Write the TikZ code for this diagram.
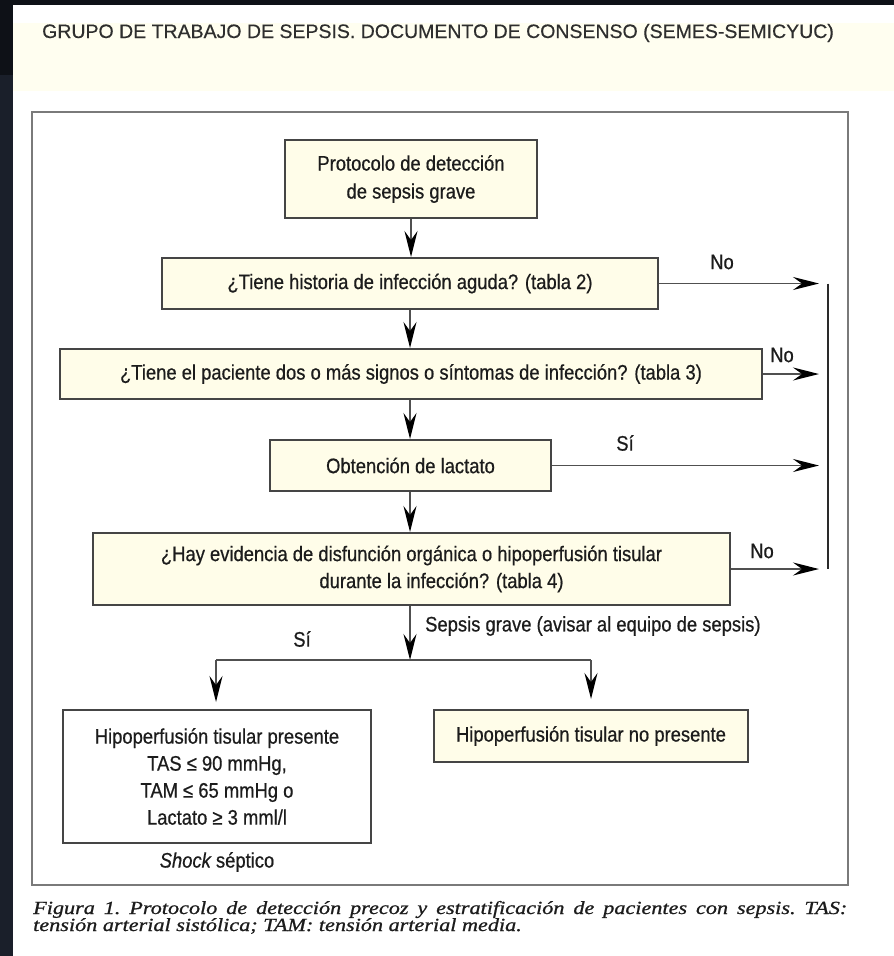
\documentclass[tikz,border=0pt]{standalone}
\usepackage{fontspec}
\setmainfont{Liberation Sans}
\newfontfamily\hdrfont[FakeBold=0.4]{Liberation Sans}
\newfontfamily\boxfont[FakeStretch=0.876,FakeBold=0.6]{Liberation Sans}
\newfontfamily\capfont[FakeStretch=1.2,FakeBold=0.9]{Liberation Serif}
\usetikzlibrary{arrows.meta}
\definecolor{darkbg}{HTML}{1A1F2A}
\definecolor{darkbgtop}{HTML}{0E1117}
\definecolor{cream}{HTML}{FFFEF0}
\definecolor{boxfill}{HTML}{FFFDE9}
\definecolor{boxline}{HTML}{454545}
\definecolor{frameline}{HTML}{7A7A7A}
\definecolor{txt}{HTML}{1C1C1C}
\definecolor{hdrtxt}{HTML}{2E2E2E}
\definecolor{connc}{HTML}{505050}
\definecolor{barc}{HTML}{2A2A2A}
\tikzset{
  flowbox/.style={draw=boxline, line width=2pt, fill=boxfill, inner sep=0pt, align=center,
    text=txt, font=\boxfont\fontsize{21}{28}\selectfont},
  lbl/.style={inner sep=0pt, text=txt, font=\boxfont\fontsize{21}{27}\selectfont},
  connline/.style={draw=connc, line width=1.6pt},
  arr/.style={connline, -{Stealth[length=26pt,width=13pt,inset=9pt,color=black]}},
  captxt/.style={anchor=base west, inner sep=0pt, text=txt, font=\frenchspacing\capfont\itshape\fontsize{18.5}{18}\selectfont},
}
\begin{document}
\begin{tikzpicture}[x=1pt,y=-1pt]
\useasboundingbox (0,0) rectangle (894,956);
% background
\fill[darkbg] (0,0) rectangle (894,956);
\fill[darkbgtop] (0,0) rectangle (13,75);
\fill[darkbgtop] (0,0) rectangle (894,5);
\fill[white] (13,5) rectangle (894,956);
\fill[cream] (13,23) rectangle (894,91);
% header
\node[anchor=base west, inner sep=0pt, text=hdrtxt, font=\hdrfont\fontsize{19.5}{24}\selectfont] (hdr) at (42,38)
  {GRUPO DE TRABAJO DE SEPSIS. DOCUMENTO DE CONSENSO (SEMES-SEMICYUC)};
% frame
\draw[frameline, line width=2.5pt] (32,112) rectangle (848,885);
% boxes
\node[flowbox, minimum width=252pt, minimum height=78pt] (b1) at (411,179) {Protocolo de detección\\de sepsis grave};
\node[flowbox, minimum width=496pt, minimum height=51pt] (b2) at (410,283.5) {¿Tiene historia de infección aguda? (tabla 2)};
\node[flowbox, minimum width=702pt, minimum height=50pt] (b3) at (411,374) {¿Tiene el paciente dos o más signos o síntomas de infección? (tabla 3)};
\node[flowbox, minimum width=281pt, minimum height=51pt] (b4) at (410.5,465.5) {Obtención de lactato};
\node[flowbox, minimum width=637pt, minimum height=72pt, font=\boxfont\fontsize{21}{27}\selectfont] (b5) at (411.5,569)
  {¿Hay evidencia de disfunción orgánica o hipoperfusión tisular\\\hspace*{60pt}durante la infección? (tabla 4)};
\node[flowbox, fill=white, minimum width=308pt, minimum height=133pt, font=\boxfont\fontsize{21}{27}\selectfont] (b6) at (217,776.5)
  {Hipoperfusión tisular presente\\TAS ≤ 90 mmHg,\\TAM ≤ 65 mmHg o\\Lactato ≥ 3 mml/l};
\node[flowbox, minimum width=314pt, minimum height=52pt] (b7) at (591,736) {Hipoperfusión tisular no presente};
% trunk arrows
\draw[arr] (b1.south) -- (b1.south |- b2.north);
\draw[arr] (b2.south) -- (b2.south |- b3.north);
\draw[arr] (b2.south |- b3.south) -- (b2.south |- b4.north);
\draw[arr] (b2.south |- b4.south) -- (b2.south |- b5.north);
% right side
\coordinate (r1) at (819,283.5);
\coordinate (r2) at (819,374);
\coordinate (r3) at (819,465.5);
\coordinate (r4) at (819,569);
\coordinate (bt) at (828,283.5);
\coordinate (bb) at (828,569);
\draw[arr] (b2.east) -- (r1);
\draw[arr] (b3.east) -- (r2);
\draw[arr] (b4.east) -- (r3);
\draw[arr] (b5.east) -- (r4);
\draw[barc, line width=2.6pt] (bt) -- (bb);
\node[lbl] (no1) at (722,262) {No};
\node[lbl] (no2) at (782,355) {No};
\node[lbl] (si1) at (625,443) {Sí};
\node[lbl] (no4) at (762,551) {No};
% bottom split
\coordinate (split) at (410,660);
\coordinate (sl) at (216,660);
\coordinate (sr) at (591,660);
\draw[arr] (split |- b5.south) -- (split);
\draw[connline] (sl) -- (sr);
\draw[arr, shorten >=7pt] (sl) -- (sl |- b6.north);
\draw[arr, shorten >=10pt] (sr) -- (b7.north);
\node[lbl] (si2) at (302,639) {Sí};
\node[lbl, anchor=west] (sg) at (425,626) {Sepsis grave (avisar al equipo de sepsis)};
\node[lbl] (shock) at (217,862) {{\itshape Shock} séptico};
% caption
\node[captxt] (cap1) at (33,914) {\makebox[814pt][s]{Figura 1. Protocolo de detección precoz y estratificación de pacientes con sepsis. TAS:}};
\node[captxt] (cap2) at (33,931) {tensión arterial sistólica; TAM: tensión arterial media.};
\end{tikzpicture}
\end{document}
